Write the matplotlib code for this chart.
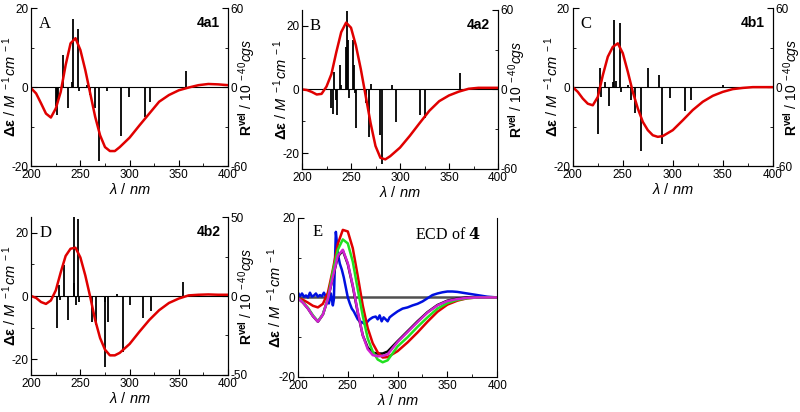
import matplotlib
matplotlib.use('Agg')
import matplotlib.pyplot as plt
from matplotlib.ticker import MultipleLocator

plt.rcParams['font.family'] = ['Liberation Sans', 'DejaVu Sans']
plt.rcParams['mathtext.fontset'] = 'custom'
plt.rcParams['mathtext.rm'] = 'Liberation Sans'
plt.rcParams['mathtext.it'] = 'Liberation Sans:italic'
plt.rcParams['mathtext.bf'] = 'Liberation Sans:bold'
plt.rcParams['axes.unicode_minus'] = False

# wavelength grid of the calculated spectra (nm)
wl_calc = [200, 205, 210, 215, 220, 225, 230, 235, 240, 245, 250, 255, 260, 265, 270,
           275, 280, 285, 290, 300, 310, 320, 330, 340, 350, 360, 370, 380, 390, 400]

# calculated ECD curves (delta epsilon)
ecd_4a1 = [-0.3, -1.6, -4.1, -6.7, -7.7, -5.4, -1.2, 5.6, 11.1, 12.4, 9.4, 4.3, -1.6, -7.5, -12.2,
           -15.2, -16.2, -16.2, -15.2, -12.8, -9.7, -6.7, -3.7, -2.0, -0.8, -0.1, 0.5, 0.8, 0.7, 0.5]
ecd_4a2 = [0.0, -0.2, -0.8, -1.6, -1.4, 0.9, 4.8, 11.7, 18.0, 21.0, 19.4, 13.8, 6.4, -2.1, -10.6,
           -17.8, -21.5, -22.0, -21.0, -18.3, -14.6, -10.6, -6.7, -3.7, -1.9, -0.7, 0.2, 0.5, 0.5, 0.5]
ecd_4b1 = [0.0, -1.2, -2.9, -4.2, -4.6, -2.5, 3.0, 7.7, 10.2, 11.1, 8.6, 3.9, -1.2, -5.4, -8.8,
           -10.9, -12.2, -12.6, -12.4, -10.9, -8.4, -5.8, -3.7, -2.2, -1.2, -0.5, -0.2, 0.0, 0.0, 0.0]
ecd_4b2 = [0.0, -0.6, -1.9, -2.5, -1.4, 1.8, 7.5, 12.7, 15.0, 15.3, 12.2, 6.5, -0.3, -7.6, -13.3,
           -17.0, -18.8, -18.8, -18.0, -15.2, -11.3, -7.6, -4.5, -2.2, -0.8, 0.2, 0.4, 0.5, 0.4, 0.4]

# rotatory strengths (sticks), R_vel in 1e-40 cgs
stick_wl_4a1 = [224.7, 226, 227, 232.5, 237.3, 241, 242.7, 247.5, 249, 257, 260, 265, 269, 277,
                291.5, 299, 316, 321, 357]
stick_R_4a1 = [-14.5, -21.4, -10, 24.4, -15.5, 4, 52, 44, -3, 1.5, -6, -16, -56, -3,
               -37, -7.5, -23, -11, 12]
stick_wl_4a2 = [230, 231.3, 233, 234.5, 235.7, 238.4, 240, 245.2, 246.3, 247, 248.3, 252, 252.7,
                254, 255.4, 265.6, 268.7, 270.4, 279.6, 281.6, 292, 296.3, 320, 325.9, 361.6]
stick_R_4a2 = [-14, -18.5, 13.5, -8, -19.3, 18.5, 3, 32, 59, 37, -6.7, 37, 18.5,
               -3, -29, -10.5, -35.6, 4, -34.4, -56, 3.4, -24.3, -19.3, -21.8, 12.2]
stick_wl_4b1 = [225.4, 227, 228, 232.6, 236, 240, 241.5, 243, 246.8, 248, 255.3, 258.3, 262,
                268.2, 275.1, 286.3, 289.6, 297.5, 312, 318.3, 350.6]
stick_R_4b1 = [-35.4, 14.2, -7.4, 4, -14.2, 4, 51, 5, 48.6, -4, 1.5, -10, -20,
               -48.9, 14.2, 9.2, -43.5, -8.1, -18.3, -10, 1.5]
stick_wl_4b2 = [226.4, 227.8, 229.5, 233.6, 237.6, 243, 244, 246, 247.8, 249, 262, 265.8,
                274.6, 275.5, 278, 287, 293.2, 300.3, 313.6, 321.7, 354.6]
stick_R_4b2 = [-20, 7, -2.6, 19.5, -15.3, 52, 8, -5.8, 49, -3.7, -16.3, -18.4,
               -44.7, -3.7, -16.7, 1, -35.3, -5.4, -13.8, -9.6, 9]

# panel E: computed conformer-weighted curves and experiment
ecd_E_red = [-0.2, -0.6, -1.3, -2.1, -2.5, -1.6, 1.2, 7.0, 13.5, 17.0, 16.6, 12.4, 5.4, -2.0, -7.7,
             -11.5, -13.8, -15.1, -15.0, -13.5, -11.3, -8.8, -6.1, -3.6, -1.8, -0.8, -0.2, 0.0, 0.0, 0.0]
ecd_E_green = [-0.2, -1.2, -2.6, -4.5, -6.0, -4.2, -0.3, 6.5, 12.0, 14.6, 13.6, 9.0, 2.0, -4.6, -10.3,
               -13.6, -15.6, -16.3, -15.8, -12.3, -10.0, -7.4, -5.0, -2.8, -1.4, -0.6, -0.2, 0.0, 0.0, 0.0]
ecd_E_black = [-0.2, -1.3, -2.8, -4.7, -6.1, -4.3, -0.4, 5.0, 10.3, 11.8, 8.4, 2.8, -3.8, -9.5, -12.6,
               -13.9, -14.1, -14.1, -13.6, -11.0, -8.5, -6.0, -3.7, -1.9, -0.8, -0.3, 0.0, 0.0, 0.0, 0.0]
ecd_E_magenta = [-0.2, -1.3, -2.8, -4.7, -6.1, -4.3, -0.4, 5.2, 10.5, 12.0, 8.6, 3.0, -3.6, -9.5, -13.0,
                 -14.5, -14.8, -14.7, -14.3, -11.2, -8.7, -6.2, -3.8, -2.0, -0.9, -0.4, -0.1, 0.0, 0.0, 0.0]

wl_exp = [200, 202, 204, 206, 208, 210, 212, 214, 216, 218, 220, 222, 224, 226, 228, 230, 231,
          233, 235, 236, 238, 239, 240, 242, 244, 246, 248, 250, 252, 254, 256, 258, 260, 262,
          264, 266, 268, 270, 272, 275, 278, 280, 282, 284, 286, 288, 290, 292, 295, 300, 305,
          310, 315, 320, 325, 330, 335, 340, 345, 350, 355, 360, 365, 370, 375, 380, 385, 390,
          395, 400]
ecd_exp = [1.2, 0.3, 1.0, 0.2, 0.5, 0.0, 1.2, 0.2, 0.5, 1.0, 0.2, 0.6, 0.3, 1.2, 0.2, -0.2, -1.5,
           1.0, -2.0, -0.5, 16.5, 14.0, 11.0, 8.5, 7.0, 5.0, 2.5, 0.0, -1.5, -2.8, -3.5, -4.5, -5.5, -6.0,
           -6.2, -6.5, -6.8, -6.0, -5.5, -5.0, -4.8, -5.5, -4.5, -6.0, -5.0, -5.5, -6.0, -5.0, -4.4, -3.5, -2.8,
           -2.5, -2.0, -1.6, -1.0, -0.2, 0.6, 1.0, 1.3, 1.5, 1.5, 1.4, 1.2, 1.0, 0.8, 0.6, 0.4, 0.2,
           0.1, 0.0]

ylab_left = r'$\mathbf{\Delta\varepsilon}$ / $M^{\ -1}cm^{\ -1}$'
ylab_right = r'$\mathbf{R^{vel}}$ / $10^{\ -40}cgs$'
xlab = r'$\lambda$ / $nm$'

fig = plt.figure(figsize=(8, 4.12), dpi=100)


def style_x(ax):
    ax.set_xlim(200, 400)
    ax.xaxis.set_major_locator(MultipleLocator(50))
    ax.xaxis.set_minor_locator(MultipleLocator(25))
    ax.set_xlabel(xlab, fontsize=10.5, labelpad=1)
    ax.spines['top'].set_visible(False)


def calc_panel(rect, curve, sw, sr, letter, name, lim_left, lim_right):
    ax = fig.add_axes(rect)
    ax2 = ax.twinx()
    ax.set_zorder(ax2.get_zorder() + 1)
    ax.patch.set_visible(False)

    ax2.vlines(sw, 0, sr, color='black', lw=1.3)
    ax2.axhline(0, color='black', lw=0.8)
    ax.plot(wl_calc, curve, color='#e00000', lw=1.8)

    style_x(ax)
    ax2.spines['top'].set_visible(False)
    ax.set_ylim(-lim_left, lim_left)
    ax2.set_ylim(-lim_right, lim_right)
    ax.yaxis.set_major_locator(MultipleLocator(20))
    ax.yaxis.set_minor_locator(MultipleLocator(10))
    ax2.yaxis.set_major_locator(MultipleLocator(lim_right))
    ax2.yaxis.set_minor_locator(MultipleLocator(lim_right / 2))
    for a in (ax, ax2):
        a.tick_params(which='both', direction='in', labelsize=8.5)
        a.tick_params(which='major', length=4)
        a.tick_params(which='minor', length=2)
    ax.tick_params(axis='x', pad=2)
    ax.tick_params(axis='y', pad=2)
    ax2.tick_params(axis='y', pad=2)
    ax.set_ylabel(ylab_left, fontsize=10.5)
    ax.yaxis.set_label_coords(-0.06, 0.5)
    ax2.set_ylabel(ylab_right, fontsize=10)
    ax2.yaxis.set_label_coords(1.04, 0.5)

    ax.text(0.04, 0.95, letter, transform=ax.transAxes, fontsize=12,
            family='Liberation Serif', va='top', ha='left')
    ax.text(0.96, 0.95, name, transform=ax.transAxes, fontsize=10,
            fontweight='bold', va='top', ha='right')
    return ax


calc_panel([0.039, 0.597, 0.246, 0.383], ecd_4a1, stick_wl_4a1, stick_R_4a1, 'A', '4a1', 20, 60)
calc_panel([0.3775, 0.590, 0.245, 0.386], ecd_4a2, stick_wl_4a2, stick_R_4a2, 'B', '4a2', 25, 60)
calc_panel([0.716, 0.597, 0.250, 0.383], ecd_4b1, stick_wl_4b1, stick_R_4b1, 'C', '4b1', 20, 60)
calc_panel([0.039, 0.090, 0.246, 0.383], ecd_4b2, stick_wl_4b2, stick_R_4b2, 'D', '4b2', 25, 50)

# panel E
axE = fig.add_axes([0.3725, 0.085, 0.249, 0.386])
axE.axhline(0, color='#505050', lw=1.8)
axE.plot(wl_exp, ecd_exp, color='#0010e0', lw=1.8)
axE.plot(wl_calc, ecd_E_black, color='black', lw=1.8)
axE.plot(wl_calc, ecd_E_red, color='#e00000', lw=1.8)
axE.plot(wl_calc, ecd_E_green, color='#20e020', lw=1.8)
axE.plot(wl_calc, ecd_E_magenta, color='#d020d0', lw=1.8)
style_x(axE)
axE.set_ylim(-20, 20)
axE.yaxis.set_major_locator(MultipleLocator(20))
axE.yaxis.set_minor_locator(MultipleLocator(10))
axE.tick_params(which='both', direction='in', labelsize=8.5, right=False)
axE.tick_params(which='major', length=4)
axE.tick_params(which='minor', length=2)
axE.tick_params(axis='x', pad=2)
axE.tick_params(axis='y', pad=2)
axE.set_ylabel(ylab_left, fontsize=10.5)
axE.yaxis.set_label_coords(-0.07, 0.5)
axE.text(0.075, 0.96, 'E', transform=axE.transAxes, fontsize=12,
         family='Liberation Serif', va='top', ha='left')
axE.text(0.92, 0.94, r'ECD of $\mathbf{4}$', transform=axE.transAxes, fontsize=11.5,
         family='Liberation Serif', va='top', ha='right', math_fontfamily='dejavuserif')

fig.savefig('out.png', dpi=100)
